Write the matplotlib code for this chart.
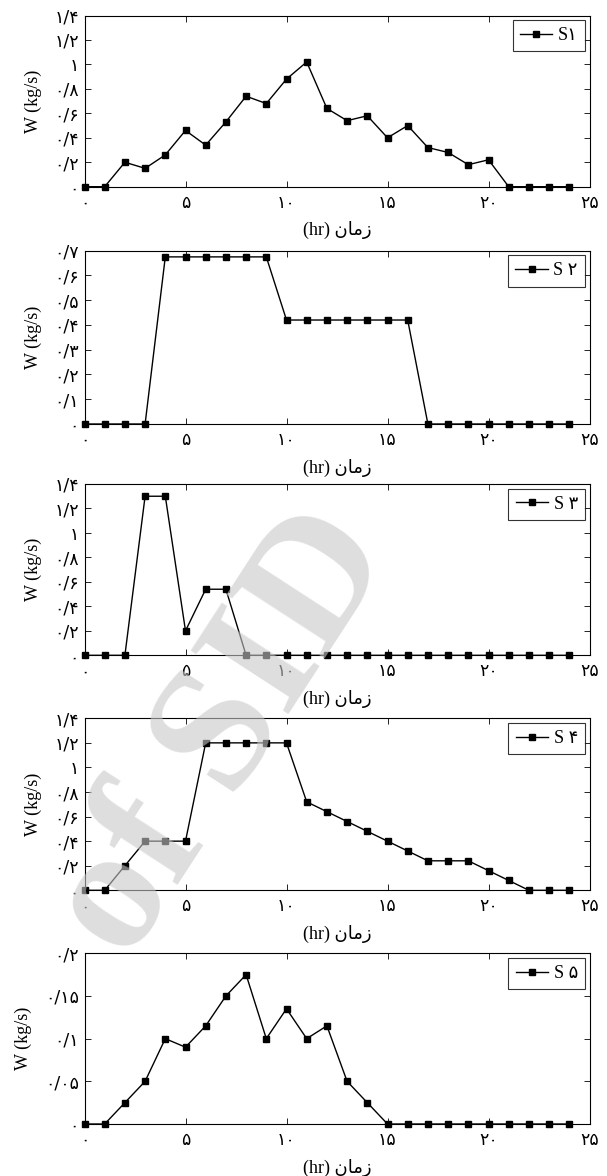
import matplotlib
matplotlib.use("Agg")
import matplotlib.pyplot as plt

hours = list(range(25))
s1 = [0, 0, 0.20, 0.15, 0.26, 0.46, 0.34, 0.53, 0.74, 0.68, 0.88, 1.02, 0.64, 0.54, 0.58,
      0.40, 0.50, 0.32, 0.28, 0.18, 0.22, 0, 0, 0, 0]
s2 = [0, 0, 0, 0, 0.675, 0.675, 0.675, 0.675, 0.675, 0.675, 0.42, 0.42, 0.42, 0.42, 0.42,
      0.42, 0.42, 0, 0, 0, 0, 0, 0, 0, 0]
s3 = [0, 0, 0, 1.30, 1.30, 0.20, 0.54, 0.54, 0, 0, 0, 0, 0, 0, 0,
      0, 0, 0, 0, 0, 0, 0, 0, 0, 0]
s4 = [0, 0, 0.20, 0.40, 0.40, 0.40, 1.20, 1.20, 1.20, 1.20, 1.20, 0.72, 0.64, 0.56, 0.48,
      0.40, 0.32, 0.24, 0.24, 0.24, 0.16, 0.08, 0, 0, 0]
s5 = [0, 0, 0.025, 0.05, 0.10, 0.09, 0.115, 0.15, 0.175, 0.10, 0.135, 0.10, 0.115, 0.05, 0.025,
      0, 0, 0, 0, 0, 0, 0, 0, 0, 0]

series = [s1, s2, s3, s4, s5]
legend_labels = ["S\u06f1", "S \u06f2", "S \u06f3", "S \u06f4", "S \u06f5"]

x_ticks = [0, 5, 10, 15, 20, 25]
x_ticklabels = ["\u06f0", "\u06f5", "\u06f1\u06f0", "\u06f1\u06f5", "\u06f2\u06f0", "\u06f2\u06f5"]

y_ticks_14 = [0, 0.2, 0.4, 0.6, 0.8, 1.0, 1.2, 1.4]
y_labels_14 = ["\u06f0", "\u06f0/\u06f2", "\u06f0/\u06f4", "\u06f0/\u06f6", "\u06f0/\u06f8",
               "\u06f1", "\u06f1/\u06f2", "\u06f1/\u06f4"]
y_ticks_07 = [0, 0.1, 0.2, 0.3, 0.4, 0.5, 0.6, 0.7]
y_labels_07 = ["\u06f0", "\u06f0/\u06f1", "\u06f0/\u06f2", "\u06f0/\u06f3", "\u06f0/\u06f4",
               "\u06f0/\u06f5", "\u06f0/\u06f6", "\u06f0/\u06f7"]
y_ticks_02 = [0, 0.05, 0.1, 0.15, 0.2]
y_labels_02 = ["\u06f0", "\u06f0/\u06f0\u06f5", "\u06f0/\u06f1", "\u06f0/\u06f1\u06f5", "\u06f0/\u06f2"]

y_specs = [(y_ticks_14, y_labels_14), (y_ticks_07, y_labels_07), (y_ticks_14, y_labels_14),
           (y_ticks_14, y_labels_14), (y_ticks_02, y_labels_02)]

# "زمان (hr)" in visual order with presentation forms
xlabel_text = "(hr) \ufee5\ufe8e\ufee3\ufeaf"
ylabel_text = "W (kg/s)"

FAM = ["Liberation Serif", "DejaVu Sans"]

fig = plt.figure(figsize=(6.07, 11.76), dpi=100)
W, H = 607, 1176
boxes = [(15.5, 186.7), (250.7, 424.0), (484.0, 655.3), (718.3, 890.3), (953.3, 1124.0)]
left_px, right_px = 84.5, 589.5

for i, (top, bot) in enumerate(boxes):
    ax = fig.add_axes([left_px / W, 1 - bot / H, (right_px - left_px) / W, (bot - top) / H])
    ax.plot(hours, series[i], color="black", lw=1.0, marker="s", ms=3.8,
            mfc="black", mec="black", clip_on=False, zorder=3, label=legend_labels[i])
    yt, yl = y_specs[i]
    ax.set_xlim(0, 25)
    ax.set_ylim(yt[0], yt[-1])
    ax.set_xticks(x_ticks)
    ax.set_xticklabels(x_ticklabels, family=["DejaVu Sans"], fontsize=12.5)
    ax.set_yticks(yt)
    ax.set_yticklabels(yl, family=["DejaVu Sans"], fontsize=12.5)
    ax.tick_params(direction="in", top=True, right=True, length=4, width=0.6)
    ax.tick_params(axis="x", pad=5)
    ax.tick_params(axis="y", pad=4)
    for sp in ax.spines.values():
        sp.set_linewidth(0.8)
    ax.set_xlabel(xlabel_text, family=FAM, fontsize=13, labelpad=7)
    ax.set_ylabel(ylabel_text, family=FAM, fontsize=13, labelpad=9)
    leg = ax.legend(loc="upper right", prop={"family": FAM, "size": 13}, frameon=True,
                    fancybox=False, edgecolor="black", handlelength=1.8, handletextpad=0.3,
                    borderpad=0.4, borderaxespad=0.25, markerscale=1.2)
    leg.get_frame().set_linewidth(0.8)

fig.text(224 / W, 1 - 735 / H, "of SID", family=FAM, fontsize=128, fontweight="bold",
         color="#c8c8c8", alpha=0.6, rotation=57, ha="center", va="center", zorder=10)

fig.savefig("out.png", dpi=100)
